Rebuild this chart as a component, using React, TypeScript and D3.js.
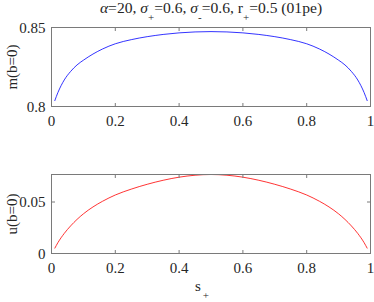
import React from "react";
import * as d3 from "d3";

const sValues = [0.01, 0.02, 0.04, 0.06, 0.08, 0.1, 0.13, 0.16, 0.2, 0.25, 0.3, 0.35, 0.4, 0.45, 0.5, 0.55, 0.6, 0.65, 0.7, 0.75, 0.8, 0.84, 0.87, 0.9, 0.92, 0.94, 0.96, 0.98, 0.99];
const mValues = [0.8035, 0.8088, 0.8168, 0.8222, 0.8263, 0.8293, 0.8332, 0.8364, 0.8397, 0.8423, 0.8442, 0.8456, 0.8466, 0.8472, 0.8474, 0.8472, 0.8466, 0.8456, 0.8442, 0.8423, 0.8397, 0.8364, 0.8332, 0.8293, 0.8263, 0.8222, 0.8168, 0.8088, 0.8035];
const uValues = [0.0049, 0.0105, 0.0195, 0.0268, 0.0331, 0.0385, 0.0452, 0.0507, 0.0568, 0.0625, 0.0672, 0.0711, 0.0741, 0.076, 0.0767, 0.076, 0.0741, 0.0711, 0.0672, 0.0625, 0.0568, 0.0507, 0.0452, 0.0385, 0.0331, 0.0268, 0.0195, 0.0105, 0.0049];
const xTicks = [0, 0.2, 0.4, 0.6, 0.8, 1];
const xTickLabels = ["0", "0.2", "0.4", "0.6", "0.8", "1"];
const mTicks = [0.8, 0.85];
const mTickLabels = ["0.8", "0.85"];
const uTicks = [0, 0.05];
const uTickLabels = ["0", "0.05"];

const W = 374;
const H = 302;
const FONT = "Liberation Serif, Times New Roman, Times, serif";
const AX = "#7a7a7a";
const TXT = "#262626";
const FS = 15;

type PanelProps = {
  top: number;
  bottom: number;
  yDomain: [number, number];
  values: number[];
  color: string;
  yTicks: number[];
  yTickLabels: string[];
  yLabel: string;
};

const left = 51.5;
const right = 370.5;

function Panel({ top, bottom, yDomain, values, color, yTicks, yTickLabels, yLabel }: PanelProps) {
  const x = d3.scaleLinear().domain([0, 1]).range([left, right]);
  const y = d3.scaleLinear().domain(yDomain).range([bottom, top]);
  const line = d3
    .line<number>()
    .x((_, i) => x(sValues[i]))
    .y((d) => y(d))
    .curve(d3.curveMonotoneX);
  const tl = 3.5;
  return (
    <g>
      <path d={line(values) || ""} fill="none" stroke={color} strokeWidth={0.8} />
      <rect x={left} y={top} width={right - left} height={bottom - top} fill="none" stroke={AX} strokeWidth={1} />
      {xTicks.map((t, i) => (
        <g key={"x" + i}>
          <line x1={x(t)} x2={x(t)} y1={bottom} y2={bottom - tl} stroke={AX} />
          <line x1={x(t)} x2={x(t)} y1={top} y2={top + tl} stroke={AX} />
          <text x={x(t)} y={bottom + 19.5} textAnchor="middle" fontSize={FS} style={{ fontFamily: FONT }} fill={TXT}>
            {xTickLabels[i]}
          </text>
        </g>
      ))}
      {yTicks.map((t, i) => (
        <g key={"y" + i}>
          <line x1={left} x2={left + tl} y1={y(t)} y2={y(t)} stroke={AX} />
          <line x1={right} x2={right - tl} y1={y(t)} y2={y(t)} stroke={AX} />
          <text x={left - 6} y={y(t) + 5} textAnchor="end" fontSize={FS} style={{ fontFamily: FONT }} fill={TXT}>
            {yTickLabels[i]}
          </text>
        </g>
      ))}
      <text
        transform={`translate(${17},${(top + bottom) / 2}) rotate(-90)`}
        textAnchor="middle"
        fontSize={FS}
        style={{ fontFamily: FONT }}
        fill={TXT}
      >
        {yLabel}
      </text>
    </g>
  );
}

export default function App() {
  const uMax = d3.max(uValues) as number;
  return (
    <svg width={W} height={H} style={{ display: "block", position: "absolute", left: 0, top: 0, fontFamily: FONT }}>
      <rect width={W} height={H} fill="#ffffff" />
      <text x={211} y={12.5} textAnchor="middle" fontSize={15.6} style={{ fontFamily: FONT }} fill={TXT}>
        <tspan fontStyle="italic">α</tspan>
        <tspan>=20, </tspan>
        <tspan fontStyle="italic">σ</tspan>
        <tspan dy={8} fontSize={11}>+</tspan>
        <tspan dy={-8}>=0.6, </tspan>
        <tspan fontStyle="italic">σ</tspan>
        <tspan dy={8} fontSize={11}>-</tspan>
        <tspan dy={-8}>=0.6, r</tspan>
        <tspan dy={8} fontSize={11}>+</tspan>
        <tspan dy={-8}>=0.5 (01pe)</tspan>
      </text>
      <Panel
        top={27.5}
        bottom={106.5}
        yDomain={[0.8, 0.85]}
        values={mValues}
        color="#0000ff"
        yTicks={mTicks}
        yTickLabels={mTickLabels}
        yLabel="m(b=0)"
      />
      <Panel
        top={174.5}
        bottom={253.5}
        yDomain={[0, uMax]}
        values={uValues}
        color="#ff0000"
        yTicks={uTicks}
        yTickLabels={uTickLabels}
        yLabel="u(b=0)"
      />
      <text x={195} y={291} fontSize={FS} style={{ fontFamily: FONT }} fill={TXT}>
        <tspan>s</tspan>
        <tspan dy={8} dx={2} fontSize={11}>+</tspan>
      </text>
    </svg>
  );
}
